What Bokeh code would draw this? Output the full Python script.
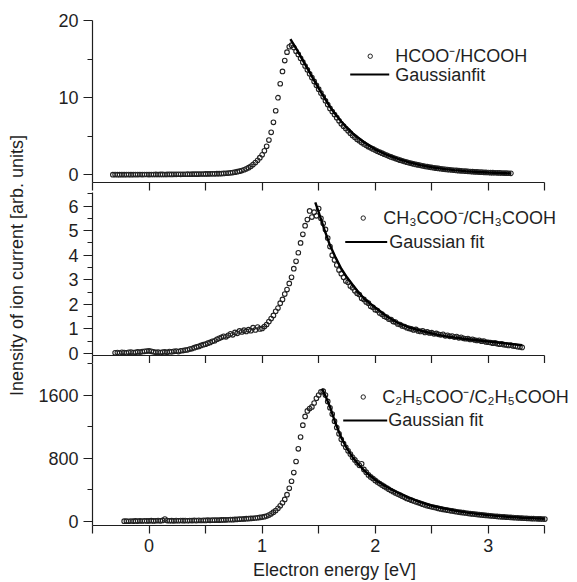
import numpy as np
from bokeh.plotting import figure
from bokeh.layouts import column, row
from bokeh.models import Range1d, FixedTicker, Label
from bokeh.embed import file_html
from bokeh.resources import INLINE

# ---------------- data ----------------
X_STEP = 0.02   # energy step of the measured spectra [eV]

# HCOO- / HCOOH : energies from -0.32 eV to 3.20 eV
hcoo_x_start = -0.32
hcoo_y = [
    0.02, 0.03, 0.02, 0.02, 0.03, 0.02, 0.03, 0.03, 0.02, 0.03,
    0.03, 0.03, 0.04, 0.03, 0.04, 0.04, 0.03, 0.04, 0.04, 0.05,
    0.04, 0.05, 0.05, 0.04, 0.05, 0.06, 0.05, 0.06, 0.06, 0.07,
    0.06, 0.07, 0.07, 0.08, 0.07, 0.08, 0.09, 0.08, 0.09, 0.10,
    0.10, 0.11, 0.11, 0.12, 0.13, 0.13, 0.14, 0.15, 0.16, 0.18,
    0.20, 0.22, 0.25, 0.29, 0.34, 0.40, 0.47, 0.55, 0.65, 0.77,
    0.92, 1.10, 1.32, 1.58, 1.88, 2.22, 2.6, 3.1, 3.7, 4.5,
    5.5, 6.8, 8.3, 10.0, 11.8, 13.4, 14.8, 15.9, 16.6, 16.8,
    16.5, 16.0, 15.6, 15.1, 14.6, 14.1, 13.6, 13.1, 12.6, 12.1,
    11.6, 11.1, 10.6, 10.1, 9.6, 9.1, 8.6, 8.2, 7.8, 7.4,
    7.0, 6.6, 6.3, 6.0, 5.7, 5.4, 5.1, 4.85, 4.6, 4.4,
    4.2, 4.0, 3.82, 3.65, 3.5, 3.35, 3.2, 3.06, 2.93, 2.8,
    2.67, 2.55, 2.43, 2.32, 2.21, 2.1, 2.0, 1.9, 1.81, 1.72,
    1.63, 1.55, 1.48, 1.41, 1.34, 1.28, 1.22, 1.16, 1.1, 1.05,
    1.0, 0.95, 0.9, 0.86, 0.82, 0.78, 0.74, 0.71, 0.68, 0.65,
    0.62, 0.59, 0.56, 0.53, 0.51, 0.49, 0.47, 0.45, 0.43, 0.41,
    0.39, 0.37, 0.35, 0.34, 0.32, 0.31, 0.3, 0.28, 0.27, 0.26,
    0.25, 0.24, 0.23, 0.22, 0.21, 0.2, 0.19,
]
hcoo_fit_x = [1.25, 1.30, 1.35, 1.40, 1.45, 1.50, 1.55, 1.60, 1.65, 1.70,
              1.75, 1.80, 1.85, 1.90, 1.95, 2.00, 2.10, 2.20, 2.30, 2.40,
              2.50, 2.60, 2.70, 2.80, 2.90, 3.00, 3.10, 3.20]
hcoo_fit_y = [17.6, 16.4, 15.1, 13.8, 12.5, 11.2, 10.0, 8.8, 7.8, 6.9,
              6.1, 5.4, 4.8, 4.25, 3.75, 3.3, 2.6, 2.05, 1.6, 1.25,
              0.98, 0.77, 0.6, 0.47, 0.37, 0.29, 0.23, 0.18]

# CH3COO- / CH3COOH : energies from -0.30 eV to 3.30 eV
ch3_x_start = -0.30
ch3_y = [
    0.03, 0.04, 0.02, 0.05, 0.04, 0.03, 0.05, 0.06, 0.04, 0.05,
    0.07, 0.06, 0.08, 0.09, 0.10, 0.11, 0.09, 0.07, 0.05, 0.06,
    0.04, 0.06, 0.07, 0.05, 0.08, 0.07, 0.09, 0.10, 0.08, 0.11,
    0.12, 0.14, 0.15, 0.18, 0.20, 0.24, 0.27, 0.29, 0.33, 0.36,
    0.38, 0.42, 0.45, 0.50, 0.52, 0.58, 0.62, 0.66, 0.70, 0.68,
    0.74, 0.80, 0.76, 0.86, 0.82, 0.92, 0.88, 0.95, 0.90, 0.97,
    0.93, 1.05, 0.96, 1.08, 1.00, 1.02, 1.10, 1.18, 1.30, 1.42,
    1.55, 1.72, 1.85, 2.05, 2.20, 2.42, 2.60, 2.85, 3.10, 3.45,
    3.75, 4.10, 4.50, 4.85, 5.20, 5.45, 5.80, 5.55, 5.75, 5.60,
    5.90, 5.50, 5.30, 5.05, 4.70, 4.35, 4.00, 3.80, 3.60, 3.40,
    3.25, 3.10, 2.95, 2.90, 2.75, 2.68, 2.55, 2.45, 2.40, 2.25,
    2.20, 2.10, 2.05, 1.92, 1.88, 1.78, 1.75, 1.65, 1.60, 1.52,
    1.48, 1.40, 1.38, 1.30, 1.28, 1.20, 1.18, 1.12, 1.10, 1.05,
    1.02, 1.00, 0.96, 0.98, 0.92, 0.90, 0.92, 0.86, 0.88, 0.84,
    0.85, 0.80, 0.82, 0.78, 0.76, 0.78, 0.72, 0.74, 0.70, 0.71,
    0.67, 0.69, 0.64, 0.66, 0.62, 0.60, 0.61, 0.57, 0.58, 0.55,
    0.53, 0.54, 0.50, 0.51, 0.47, 0.46, 0.45, 0.42, 0.43, 0.40,
    0.38, 0.39, 0.36, 0.35, 0.33, 0.34, 0.31, 0.30, 0.28, 0.27,
    0.25,
]
ch3_fit_x = [1.47, 1.50, 1.55, 1.60, 1.65, 1.70, 1.75, 1.80, 1.85, 1.90,
             1.95, 2.00, 2.10, 2.20, 2.30, 2.40, 2.50, 2.60, 2.70, 2.80,
             2.90, 3.00, 3.10, 3.20, 3.30]
ch3_fit_y = [6.15, 5.75, 5.05, 4.40, 3.90, 3.45, 3.10, 2.80, 2.50, 2.25,
             2.05, 1.87, 1.52, 1.25, 1.06, 0.93, 0.82, 0.72, 0.65, 0.59,
             0.54, 0.49, 0.44, 0.39, 0.34]

# C2H5COO- / C2H5COOH : energies from -0.22 eV to 3.50 eV
c2_x_start = -0.22
c2_y = [
    5, 6, 4, 7, 5, 8, 6, 9, 7, 10,
    8, 9, 11, 8, 10, 12, 9, 14, 32, 12,
    10, 11, 9, 12, 10, 13, 11, 12, 10, 13,
    12, 14, 12, 15, 13, 16, 14, 17, 15, 18,
    17, 19, 18, 21, 20, 22, 23, 25, 24, 27,
    28, 30, 32, 33, 36, 38, 40, 42, 45, 48,
    52, 56, 62, 70, 82, 98, 118, 140, 168, 200,
    238, 280, 340, 420, 510, 620, 760, 920, 1070, 1220,
    1330, 1400, 1430, 1450, 1500, 1560, 1600, 1640, 1650, 1600,
    1520, 1440, 1360, 1270, 1190, 1110, 1040, 985, 940, 895,
    855, 815, 780, 745, 712, 730, 660, 625, 590, 565,
    545, 520, 500, 480, 462, 445, 428, 410, 393, 377,
    362, 348, 335, 320, 307, 293, 282, 270, 260, 250,
    240, 230, 220, 210, 201, 193, 186, 179, 172, 166,
    160, 154, 149, 144, 139, 134, 129, 124, 120, 116,
    112, 108, 104, 100, 97, 94, 90, 87, 84, 81,
    78, 75, 72, 70, 67, 65, 62, 60, 58, 56,
    54, 52, 50, 48, 47, 45, 44, 42, 41, 39,
    38, 36, 35, 34, 33, 32, 31,
]
c2_fit_x = [1.53, 1.56, 1.60, 1.65, 1.70, 1.75, 1.80, 1.85, 1.90, 1.95,
            2.00, 2.10, 2.20, 2.30, 2.40, 2.50, 2.60, 2.70, 2.80, 2.90,
            3.00, 3.10, 3.20, 3.30, 3.40, 3.50]
c2_fit_y = [1680, 1590, 1450, 1240, 1060, 925, 815, 725, 650, 585,
            530, 440, 365, 300, 245, 200, 168, 140, 116, 97,
            81, 68, 57, 48, 41, 35]

x_major = [0, 1, 2, 3]
x_minor = [-0.5, 0.5, 1.5, 2.5, 3.5]
x_all_ticks = [-0.5, 0, 0.5, 1, 1.5, 2, 2.5, 3, 3.5]

series_names = ["HCOO\u207b/HCOOH",
                "CH\u2083COO\u207b/CH\u2083COOH",
                "C\u2082H\u2085COO\u207b/C\u2082H\u2085COOH"]
fit_names = ["Gaussianfit", "Gaussian fit", "Gaussian fit"]
x_title = "Electron energy [eV]"
y_title = "Inensity of ion current [arb. units]"


def grid(start, values):
    return np.round(start + X_STEP * np.arange(len(values)), 2)


# ---------------- styling / layout ----------------
FONT = "Liberation Sans"
INK = "#1f1f1f"
MARK = "#222222"
FS = "18px"
X_LO, X_HI, X_VIEW_HI = -0.5, 3.5, 3.78   # axis spans -0.5..3.5, room for legend text
PX_PER_EV = 113
FRAME_W = int(round((X_VIEW_HI - X_LO) * PX_PER_EV))
TITLE_W = 30
LEFT = 92 - TITLE_W
RIGHT = 0
P3_BOTTOM = 59
TOTAL_H = 20 + 162 + 10 + 163 + 6 + 162 + P3_BOTTOM


def base_axis(ax):
    ax.axis_line_color = INK
    ax.axis_line_width = 1.2
    ax.major_tick_line_color = INK
    ax.minor_tick_line_color = INK
    ax.major_tick_line_width = 1.2
    ax.minor_tick_line_width = 1.2
    ax.major_tick_in = 0
    ax.minor_tick_in = 0
    ax.major_label_text_font = FONT
    ax.major_label_text_font_size = FS
    ax.major_label_text_color = INK


def panel(y_range, y_ticks, y_minor, frame_h, top, bottom, show_x_labels):
    p = figure(frame_width=FRAME_W, frame_height=frame_h,
               min_border_left=LEFT, min_border_right=RIGHT,
               min_border_top=top, min_border_bottom=bottom,
               x_range=Range1d(X_LO, X_VIEW_HI), y_range=Range1d(*y_range),
               output_backend="svg", toolbar_location=None, tools="")
    p.xgrid.visible = False
    p.ygrid.visible = False
    p.outline_line_color = None
    p.background_fill_color = "white"
    p.border_fill_color = "white"

    for ax in p.yaxis:
        base_axis(ax)
        ax.ticker = FixedTicker(ticks=y_ticks, minor_ticks=y_minor)
        ax.major_tick_out = 9
        ax.minor_tick_out = 5
        ax.major_label_standoff = 5

    for ax in p.xaxis:
        base_axis(ax)
        ax.bounds = (X_LO, X_HI)
        ax.major_tick_out = 8
        ax.minor_tick_out = 8
        if show_x_labels:
            ax.ticker = FixedTicker(ticks=x_major, minor_ticks=x_minor)
            ax.major_label_standoff = 5
            ax.axis_label = x_title
            ax.axis_label_text_font = FONT
            ax.axis_label_text_font_size = FS
            ax.axis_label_text_font_style = "normal"
            ax.axis_label_text_color = INK
            ax.axis_label_standoff = 5
        else:
            # unlabeled axis: every tick drawn as a (label-less) minor tick
            ax.ticker = FixedTicker(ticks=[], minor_ticks=x_all_ticks)
            ax.major_label_standoff = 0
    return p


def draw(p, xs, ys, fx, fy):
    p.scatter(xs, ys, marker="circle", size=4.6, fill_color=None,
              line_color=MARK, line_width=1.1)
    p.line(fx, fy, line_color="black", line_width=2.4)


def legend(p, mx, my, tx, line_x0, line_x1, ly, t2x, name, fit_name):
    p.scatter([mx], [my], marker="circle", size=4.4, fill_color=None,
              line_color=MARK, line_width=1.0)
    p.line([line_x0, line_x1], [ly, ly], line_color="black", line_width=2.0)
    for x, y, t in [(tx, my, name), (t2x, ly, fit_name)]:
        p.add_layout(Label(x=x, y=y, text=t, text_font=FONT,
                           text_font_size=FS, text_color=INK,
                           text_baseline="middle", text_align="left"))


p1 = panel((-1.0, 20.0), [0, 10, 20], [5, 15], 162, 20, 10, False)
draw(p1, grid(hcoo_x_start, hcoo_y), hcoo_y, hcoo_fit_x, hcoo_fit_y)
legend(p1, 1.956, 15.37, 2.177, 1.779, 2.124, 13.0, 2.177,
       series_names[0], fit_names[0])

p2 = panel((-0.08, 6.55), [0, 1, 2, 3, 4, 5, 6],
           [0.5, 1.5, 2.5, 3.5, 4.5, 5.5, 6.5], 163, 0, 6, False)
draw(p2, grid(ch3_x_start, ch3_y), ch3_y, ch3_fit_x, ch3_fit_y)
legend(p2, 1.894, 5.51, 2.071, 1.735, 2.106, 4.54, 2.124,
       series_names[1], fit_names[1])

p3 = panel((-50, 2000), [0, 800, 1600], [400, 1200, 2000], 162, 0,
           P3_BOTTOM, True)
draw(p3, grid(c2_x_start, c2_y), c2_y, c2_fit_x, c2_fit_y)
legend(p3, 1.894, 1576, 2.062, 1.717, 2.106, 1279, 2.115,
       series_names[2], fit_names[2])

# shared y-axis title in a narrow strip to the left of the three panels
title_fig = figure(width=TITLE_W, height=TOTAL_H, min_border=0,
                   x_range=Range1d(0, TITLE_W), y_range=Range1d(0, TOTAL_H),
                   x_axis_type=None, y_axis_type=None,
                   output_backend="svg", toolbar_location=None, tools="")
title_fig.xgrid.visible = False
title_fig.ygrid.visible = False
title_fig.outline_line_color = None
title_fig.add_layout(Label(x=16, y=TOTAL_H - 265, text=y_title,
                           angle=np.pi / 2, text_font=FONT,
                           text_font_size=FS, text_color=INK,
                           text_align="center", text_baseline="middle"))

layout = row(title_fig, column(p1, p2, p3, spacing=0), spacing=0)
open("out.html", "w").write(file_html(layout, INLINE))
